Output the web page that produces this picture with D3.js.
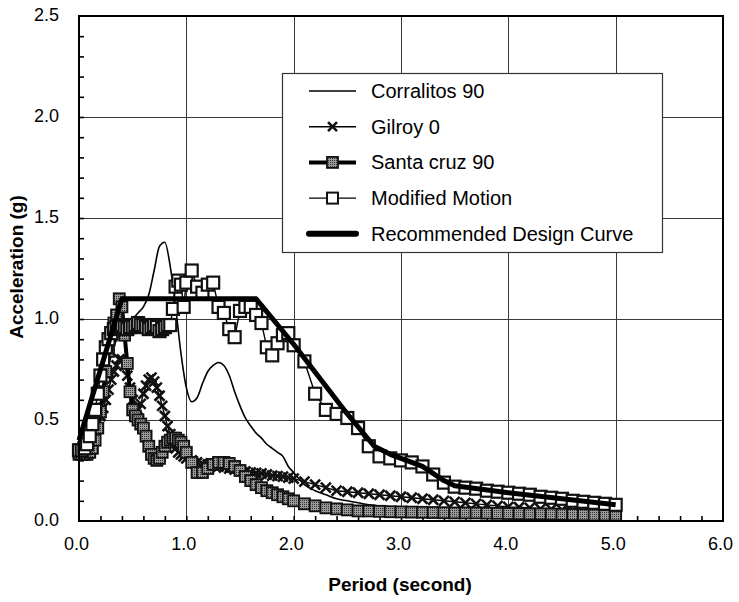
<!DOCTYPE html>
<html>
<head>
<meta charset="utf-8">
<script src="https://cdn.jsdelivr.net/npm/d3@7"></script>
<style>
  html, body { margin: 0; padding: 0; background: #fff; }
  svg { display: block; font-family: "Liberation Sans", Arial, Helvetica, sans-serif; }
</style>
</head>
<body>
<svg id="chart" width="739" height="602"></svg>
<script>
// Periods (s) of the recorded spectra: 0.025 s steps to 1.0 s, 0.05 s to 2.0 s, 0.1 s to 5.0 s
const periods = [
  0, 0.025, 0.05, 0.075, 0.1, 0.125, 0.15, 0.175, 0.2, 0.225,
  0.25, 0.275, 0.3, 0.325, 0.35, 0.375, 0.4, 0.425, 0.45, 0.475,
  0.5, 0.525, 0.55, 0.575, 0.6, 0.625, 0.65, 0.675, 0.7, 0.725,
  0.75, 0.775, 0.8, 0.825, 0.85, 0.875, 0.9, 0.925, 0.95, 0.975, 1.0,
  1.05, 1.1, 1.15, 1.2, 1.25, 1.3, 1.35, 1.4, 1.45, 1.5,
  1.55, 1.6, 1.65, 1.7, 1.75, 1.8, 1.85, 1.9, 1.95, 2.0,
  2.1, 2.2, 2.3, 2.4, 2.5, 2.6, 2.7, 2.8, 2.9, 3.0,
  3.1, 3.2, 3.3, 3.4, 3.5, 3.6, 3.7, 3.8, 3.9, 4.0,
  4.1, 4.2, 4.3, 4.4, 4.5, 4.6, 4.7, 4.8, 4.9, 5.0
];

// Corralitos 90 is drawn as a plain curve, on a coarser period list
const corralitosPeriods = [
  0, 0.05, 0.1, 0.15, 0.2, 0.25, 0.3, 0.35, 0.4, 0.45,
  0.5, 0.55, 0.6, 0.65, 0.7, 0.75, 0.8, 0.85, 0.9, 0.95,
  1.0, 1.05, 1.1, 1.15, 1.2, 1.25, 1.3, 1.35, 1.4, 1.45,
  1.5, 1.55, 1.6, 1.65, 1.7, 1.75, 1.8, 1.85, 1.9, 1.95,
  2.0, 2.1, 2.2, 2.3, 2.4, 2.5, 2.6, 2.7, 2.8, 2.9,
  3.0, 3.1, 3.2, 3.3, 3.4, 3.5, 3.6, 3.7, 3.8, 3.9,
  4.0, 4.1, 4.2, 4.3, 4.4, 4.5, 4.6, 4.7, 4.8, 4.9, 5.0
];
const corralitos90 = [
  0.40, 0.40, 0.42, 0.48, 0.58, 0.70, 0.82, 0.90, 0.95, 0.98,
  1.00, 1.03, 1.06, 1.12, 1.24, 1.36, 1.38, 1.26, 1.06, 0.83,
  0.66, 0.59, 0.61, 0.68, 0.74, 0.77, 0.785, 0.77, 0.72, 0.64,
  0.57, 0.51, 0.47, 0.435, 0.41, 0.38, 0.36, 0.34, 0.32, 0.27,
  0.24, 0.18, 0.15, 0.13, 0.11, 0.10, 0.09, 0.08, 0.075, 0.07,
  0.065, 0.06, 0.06, 0.055, 0.055, 0.05, 0.05, 0.05, 0.045, 0.045,
  0.045, 0.04, 0.04, 0.04, 0.04, 0.035, 0.035, 0.035, 0.035, 0.03, 0.03
];

// Spectral acceleration (g) on the periods list
const gilroy0 = [
  0.35, 0.35, 0.36, 0.38, 0.40, 0.43, 0.46, 0.49, 0.52, 0.56,
  0.60, 0.65, 0.70, 0.74, 0.77, 0.80, 0.80, 0.77, 0.72, 0.66,
  0.60, 0.56, 0.55, 0.58, 0.63, 0.67, 0.70, 0.71, 0.69, 0.66,
  0.62, 0.57, 0.52, 0.47, 0.43, 0.39, 0.36, 0.34, 0.33, 0.32, 0.31,
  0.30, 0.29, 0.285, 0.28, 0.275, 0.27, 0.265, 0.26, 0.255, 0.25,
  0.245, 0.24, 0.238, 0.235, 0.23, 0.225, 0.222, 0.22, 0.215, 0.21,
  0.195, 0.18, 0.165, 0.15, 0.145, 0.14, 0.135, 0.13, 0.125, 0.12,
  0.115, 0.11, 0.105, 0.10, 0.095, 0.09, 0.085, 0.08, 0.075, 0.07,
  0.068, 0.065, 0.06, 0.058, 0.055, 0.05, 0.048, 0.045, 0.042, 0.04
];

const santaCruz90 = [
  0.33, 0.33, 0.33, 0.33, 0.34, 0.36, 0.40, 0.46, 0.54, 0.64,
  0.74, 0.84, 0.92, 0.98, 1.02, 1.10, 1.06, 0.92, 0.78, 0.64,
  0.55, 0.52, 0.50, 0.48, 0.46, 0.42, 0.37, 0.33, 0.31, 0.30,
  0.31, 0.34, 0.37, 0.39, 0.40, 0.41, 0.41, 0.40, 0.39, 0.37, 0.34,
  0.29, 0.24, 0.24, 0.26, 0.28, 0.29, 0.29, 0.285, 0.27, 0.25,
  0.22, 0.20, 0.18, 0.165, 0.15, 0.14, 0.13, 0.12, 0.11, 0.10,
  0.085, 0.075, 0.065, 0.06, 0.055, 0.05, 0.05, 0.048, 0.046, 0.045,
  0.044, 0.043, 0.042, 0.041, 0.04, 0.04, 0.04, 0.039, 0.038, 0.037,
  0.036, 0.035, 0.035, 0.034, 0.033, 0.032, 0.031, 0.03, 0.03, 0.03
];

const modifiedMotion = [
  0.35, 0.35, 0.36, 0.38, 0.42, 0.48, 0.55, 0.63, 0.72, 0.80,
  0.86, 0.90, 0.93, 0.95, 0.96, 0.97, 0.97, 0.96, 0.95, 0.96,
  0.96, 0.97, 0.98, 0.97, 0.97, 0.96, 0.95, 0.96, 0.97, 0.96,
  0.94, 0.95, 0.96, 0.97, 0.97, 1.05, 1.16, 1.19, 1.17, 1.06, 1.18,
  1.24, 1.16, 1.13, 1.17, 1.18, 1.06, 1.03, 0.95, 0.91, 1.04,
  1.06, 1.06, 1.02, 0.98, 0.86, 0.82, 0.88, 0.92, 0.93, 0.87,
  0.79, 0.63, 0.55, 0.53, 0.51, 0.46, 0.37, 0.32, 0.31, 0.30,
  0.29, 0.27, 0.23, 0.19, 0.17, 0.165, 0.16, 0.15, 0.145, 0.14,
  0.135, 0.13, 0.12, 0.115, 0.11, 0.10, 0.095, 0.09, 0.085, 0.08
];

// Recommended design curve corner points
const designPeriods = [0, 0.4, 1.65, 2.0, 2.5, 2.75, 2.9, 3.0, 3.2, 3.4, 3.5, 4.0, 4.5, 5.0];
const designAccel   = [0.4, 1.1, 1.1, 0.875, 0.53, 0.37, 0.33, 0.31, 0.27, 0.20, 0.175, 0.14, 0.11, 0.08];

const xTicks = [0, 1, 2, 3, 4, 5, 6];
const yTicks = [0, 0.5, 1.0, 1.5, 2.0, 2.5];
const legendLabels = ["Corralitos 90", "Gilroy 0", "Santa cruz 90", "Modified Motion", "Recommended Design Curve"];

const svg = d3.select("#chart");
const pLeft = 79, pRight = 723, pTop = 16, pBottom = 521;

// halftone grey used inside the Santa cruz markers
const pat = svg.append("defs").append("pattern").attr("id", "halftone")
  .attr("width", 2).attr("height", 2).attr("patternUnits", "userSpaceOnUse");
pat.append("rect").attr("width", 2).attr("height", 2).attr("fill", "#9a9a9a");
pat.append("rect").attr("width", 1).attr("height", 1).attr("fill", "#333");

const x = d3.scaleLinear().domain([0, 6]).range([pLeft, pRight]);
const y = d3.scaleLinear().domain([0, 2.5]).range([pBottom, pTop]);

const zip = (ts, vs) => ts.map((t, i) => [t, vs[i]]);
const line = d3.line().x(d => x(d[0])).y(d => y(d[1]));

// gridlines
const grid = svg.append("g").attr("stroke", "#3a3a3a").attr("stroke-width", 1);
grid.selectAll("line.gx").data(xTicks.slice(1, -1)).enter().append("line")
  .attr("x1", d => Math.round(x(d)) + 0.5).attr("x2", d => Math.round(x(d)) + 0.5)
  .attr("y1", pTop).attr("y2", pBottom);
grid.selectAll("line.gy").data(yTicks.slice(1, -1)).enter().append("line")
  .attr("y1", d => Math.round(y(d)) + 0.5).attr("y2", d => Math.round(y(d)) + 0.5)
  .attr("x1", pLeft).attr("x2", pRight);

// minor inward ticks
const xMinor = d3.range(1, 30).map(i => i * 0.2);
svg.append("g").attr("transform", `translate(0,${pBottom})`)
  .call(d3.axisBottom(x).tickValues(xMinor).tickSize(-5).tickFormat(""))
  .call(g => g.select(".domain").remove())
  .call(g => g.selectAll("line").attr("stroke", "#000").attr("stroke-width", 1.6));
const yMinor = d3.range(1, 25).map(i => i * 0.1);
svg.append("g").attr("transform", `translate(${pLeft},0)`)
  .call(d3.axisLeft(y).tickValues(yMinor).tickSize(-5).tickFormat(""))
  .call(g => g.select(".domain").remove())
  .call(g => g.selectAll("line").attr("stroke", "#000").attr("stroke-width", 1.6));

// tick labels
svg.append("g").attr("transform", `translate(-3,${pBottom + 10})`)
  .call(d3.axisBottom(x).tickValues(xTicks).tickSize(0).tickPadding(0).tickFormat(d3.format(".1f")))
  .call(g => g.select(".domain").remove())
  .call(g => g.selectAll("text").attr("font-size", 18).attr("fill", "#000")
    .attr("font-family", "Liberation Sans, Arial, sans-serif").attr("dy", "1.05em"));
svg.append("g").attr("transform", `translate(${pLeft - 20},-1)`)
  .call(d3.axisLeft(y).tickValues(yTicks).tickSize(0).tickPadding(0).tickFormat(d3.format(".1f")))
  .call(g => g.select(".domain").remove())
  .call(g => g.selectAll("text").attr("font-size", 18).attr("fill", "#000")
    .attr("font-family", "Liberation Sans, Arial, sans-serif"));

// axis titles
svg.append("text").attr("x", 400).attr("y", 591).attr("text-anchor", "middle")
  .attr("font-size", 19).attr("font-weight", "bold").text("Period (second)");
svg.append("text").attr("transform", "translate(23,267) rotate(-90)").attr("text-anchor", "middle")
  .attr("font-size", 19).attr("font-weight", "bold").text("Acceleration (g)");

// series
const plot = svg.append("g");
const sq = (g, data, size, fill, sw) => g.selectAll("rect").data(data).enter().append("rect")
  .attr("x", d => x(d[0]) - size / 2).attr("y", d => y(d[1]) - size / 2)
  .attr("width", size).attr("height", size)
  .attr("fill", fill).attr("stroke", "#111").attr("stroke-width", sw);
const cross = (g, data, size, sw) => g.selectAll("path").data(data).enter().append("path")
  .attr("d", d => {
    const cx = x(d[0]), cy = y(d[1]), h = size / 2;
    return `M${cx - h},${cy - h}L${cx + h},${cy + h}M${cx - h},${cy + h}L${cx + h},${cy - h}`;
  })
  .attr("stroke", "#111").attr("stroke-width", sw).attr("fill", "none");

const cData = zip(corralitosPeriods, corralitos90);
const gData = zip(periods, gilroy0);
const sData = zip(periods, santaCruz90);
const mData = zip(periods, modifiedMotion);
const dData = zip(designPeriods, designAccel);

const smooth = d3.line().x(d => x(d[0])).y(d => y(d[1])).curve(d3.curveMonotoneX);
plot.append("path").datum(cData).attr("d", smooth)
  .attr("fill", "none").attr("stroke", "#000").attr("stroke-width", 1.6);

const gG = plot.append("g");
gG.append("path").datum(gData).attr("d", line).attr("fill", "none").attr("stroke", "#000").attr("stroke-width", 1.4);
cross(gG.append("g"), gData, 10, 2.6);

const sG = plot.append("g");
sG.append("path").datum(sData).attr("d", line).attr("fill", "none").attr("stroke", "#000").attr("stroke-width", 4);
sq(sG.append("g"), sData, 11, "url(#halftone)", 1.8);

const mG = plot.append("g");
mG.append("path").datum(mData).attr("d", line).attr("fill", "none").attr("stroke", "#000").attr("stroke-width", 1.4);
sq(mG.append("g"), mData, 12, "#fff", 2.2);

plot.append("path").datum(dData).attr("d", line).attr("fill", "none")
  .attr("stroke", "#000").attr("stroke-width", 5).attr("stroke-linejoin", "round");

// frame
svg.append("rect").attr("x", pLeft).attr("y", pTop).attr("width", pRight - pLeft).attr("height", pBottom - pTop)
  .attr("fill", "none").attr("stroke", "#000").attr("stroke-width", 2);

// legend
const lg = svg.append("g");
lg.append("rect").attr("x", 282.5).attr("y", 73.5).attr("width", 380).attr("height", 179)
  .attr("fill", "#fff").attr("stroke", "#333").attr("stroke-width", 1.2);
const ly = i => 91 + i * 35.7;
const lx0 = 309, lx1 = 356, lxm = (lx0 + lx1) / 2;
legendLabels.forEach((lab, i) => {
  lg.append("text").attr("x", 371).attr("y", ly(i)).attr("dy", "0.35em")
    .attr("font-size", 20).attr("fill", "#000").text(lab);
});
const seg = (i, w) => lg.append("line").attr("x1", lx0).attr("x2", lx1).attr("y1", ly(i)).attr("y2", ly(i))
  .attr("stroke", "#000").attr("stroke-width", w);
seg(0, 1.6);
seg(1, 1.4); cross(lg.append("g"), [[x.invert(lxm), y.invert(ly(1))]], 9, 2.6);
seg(2, 4); sq(lg.append("g"), [[x.invert(lxm), y.invert(ly(2))]], 11, "url(#halftone)", 1.8);
seg(3, 1.4); sq(lg.append("g"), [[x.invert(lxm), y.invert(ly(3))]], 11, "#fff", 2);
seg(4, 6).attr("stroke-linecap", "round");
</script>
</body>
</html>
